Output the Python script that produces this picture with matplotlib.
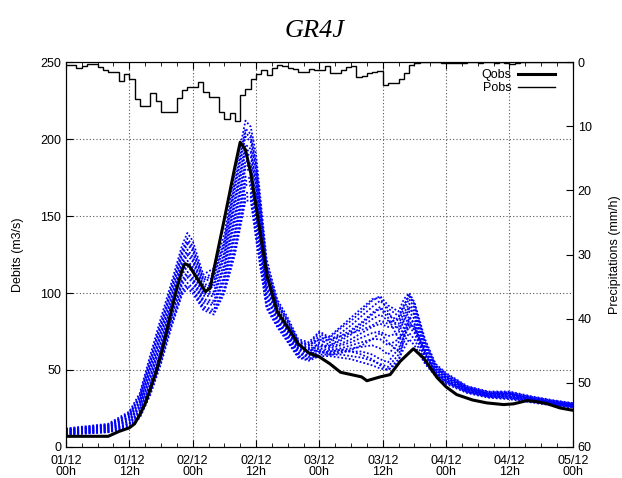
import numpy as np
import matplotlib
matplotlib.use("Agg")
import matplotlib.pyplot as plt
from matplotlib.ticker import MultipleLocator
from matplotlib.lines import Line2D

plt.rcParams['font.family'] = ['Liberation Sans', 'DejaVu Sans']

# axe du temps : heures depuis le 01/12 00h
x_ticks = [0, 12, 24, 36, 48, 60, 72, 84, 96]
x_labels = ["01/12\n00h", "01/12\n12h", "02/12\n00h", "02/12\n12h", "03/12\n00h",
            "03/12\n12h", "04/12\n00h", "04/12\n12h", "05/12\n00h"]

# pluie horaire observee (mm/h)
pobs = [0.42, 0.42, 0.84, 0.58, 0.32, 0.32, 0.68, 1.3, 1.6, 1.6,
        2.9, 1.9, 2.65, 5.7, 6.9, 6.8, 4.8, 6.1, 7.7, 7.8,
        7.8, 5.6, 4.4, 3.8, 3.9, 3.1, 4.6, 5.5, 5.5, 7.8,
        8.8, 7.9, 9.2, 5.2, 4.2, 2.6, 1.8, 1.2, 2.0, 0.9,
        0.5, 0.6, 0.9, 1.0, 1.6, 1.5, 1.0, 1.15, 1.15, 0.63,
        1.67, 1.67, 1.15, 0.78, 0.63, 2.3, 2.2, 1.67, 1.5, 1.4,
        3.5, 3.3, 3.3, 2.7, 1.67, 0.47, 0.1, 0.05, 0.0, 0.0,
        0.05, 0.1, 0.15, 0.1, 0.2, 0.1, 0.0, 0.05, 0.1, 0.0,
        0.0, 0.1, 0.0, 0.15, 0.3, 0.1, 0.0, 0.0, 0.0, 0.0,
        0.0, 0.0, 0.0, 0.0, 0.0, 0.0]
p_edges = np.arange(len(pobs) + 1)

# debit observe (m3/s)
qobs_t = [0, 8, 10, 12, 13, 14, 15, 16, 17, 18, 19, 20, 21, 22, 22.5, 23.3, 26.4, 27.3,
          28, 30, 32, 33, 34, 35, 36.8, 38.1, 40, 42.5, 44, 46, 48, 50, 52, 54, 56, 57,
          59.5, 61.4, 63.3, 65.8, 67.7, 70.3, 72, 74, 77, 79.7, 82.9, 84.8, 87.3, 89,
          91.1, 93.6, 96]
qobs = [6.9, 6.9, 10, 12.4, 15, 21, 28, 38, 48, 60, 74, 89, 103, 115, 119, 118, 101, 103,
        115, 148, 182, 198, 193, 178, 139, 111, 88, 75, 67, 61, 58.5, 54, 48.5, 47, 45.5, 43,
        45.5, 47, 55.6, 63.8, 57.8, 45, 39, 34, 30.5, 28.6, 27.5, 28, 30.1, 29.5,
        28.1, 25.3, 23.8]

# membres de l'ensemble GR4J (m3/s)
ens_t = [0, 8, 12, 14, 16, 18, 20, 22, 23, 24, 26, 28, 30, 32, 34, 35, 36, 38, 40, 42, 44, 46,
         48, 50, 52, 54, 56, 58, 59.5, 61, 63, 64, 65, 66, 68,
         70, 72, 76, 80, 84, 88, 92, 96]
ens_01 = [8, 9.5, 12.5, 19, 34, 54, 78, 99, 103, 100, 89, 86, 100, 125, 160, 160, 135, 90, 78, 68, 58, 56,
          59, 59, 58, 57, 55, 53, 51, 50, 57, 64, 70, 66, 54,
          46, 41, 35, 32, 31, 29, 27, 25.5]
ens_02 = [8.4, 10, 13.5, 20.6, 36.6, 57, 80.9, 102.2, 106.6, 103.4, 91.3, 89, 103.8, 130.3, 165.2, 164.8, 140.5, 93.2, 79.8, 69.6, 59.2, 57.2,
          60, 60, 60, 59, 58, 56, 54, 52, 60, 68, 74, 70, 55.6,
          46.8, 41.7, 35.5, 32.4, 31.5, 29.4, 27.4, 25.8]
ens_03 = [8.8, 10.6, 14.6, 22.2, 39.2, 60, 83.8, 105.4, 110.2, 106.8, 93.6, 92, 107.6, 135.6, 170.4, 169.6, 146, 96.4, 81.6, 71.2, 60.4, 58.4,
          62, 61, 62, 62, 62, 60, 57, 55, 64, 72, 78, 74, 57.2,
          47.6, 42.4, 35.9, 32.8, 32, 29.8, 27.7, 26.1]
ens_04 = [9.2, 11.1, 15.6, 23.8, 41.8, 63, 86.7, 108.6, 113.8, 110.2, 95.9, 95, 111.4, 140.9, 175.6, 174.4, 151.5, 99.6, 83.4, 72.8, 61.6, 59.6,
          63, 62, 63, 64, 65, 66, 64, 60, 68, 76, 82, 77, 58.8,
          48.4, 43.1, 36.4, 33.2, 32.5, 30.2, 28.1, 26.4]
ens_05 = [9.6, 11.7, 16.7, 25.4, 44.4, 66, 89.6, 111.8, 117.4, 113.6, 98.2, 98, 115.2, 146.2, 180.8, 179.2, 157, 102.8, 85.2, 74.4, 62.8, 60.8,
          64, 63, 64, 66, 68, 70, 70, 66, 70, 78, 85, 80, 60.4,
          49.2, 43.8, 36.8, 33.6, 33, 30.6, 28.4, 26.7]
ens_06 = [10, 12.2, 17.7, 27, 47, 69, 92.5, 115, 121, 117, 100.5, 101, 119, 151.5, 186, 184, 162.5, 106, 87, 76, 64, 62,
          66, 64, 66, 68, 71, 74, 75, 72, 74, 82, 88, 83, 62,
          50, 44.5, 37.3, 34, 33.5, 31, 28.8, 27]
ens_07 = [10.4, 12.8, 18.8, 28.6, 49.6, 72, 95.4, 118.2, 124.6, 120.4, 102.8, 104, 122.8, 156.8, 191.2, 188.8, 168, 109.2, 88.8, 77.6, 65.2, 63.2,
          67, 65, 67, 70, 74, 78, 80, 78, 78, 85, 91, 86, 63.6,
          50.8, 45.2, 37.7, 34.4, 34, 31.4, 29.1, 27.3]
ens_08 = [10.8, 13.3, 19.8, 30.2, 52.2, 75, 98.3, 121.4, 128.2, 123.8, 105.1, 107, 126.6, 162.1, 196.4, 193.6, 173.5, 112.4, 90.6, 79.2, 66.4, 64.4,
          70, 66, 69, 73, 78, 83, 86, 82, 80, 87, 93, 88, 65.2,
          51.6, 45.9, 38.2, 34.8, 34.5, 31.8, 29.5, 27.6]
ens_09 = [11.2, 13.9, 20.9, 31.8, 54.8, 78, 101.2, 124.6, 131.8, 127.2, 107.4, 110, 130.4, 167.4, 201.6, 198.4, 179, 115.6, 92.4, 80.8, 67.6, 65.6,
          72, 68, 72, 76, 81, 87, 91, 86, 82, 90, 96, 90, 66.8,
          52.4, 46.6, 38.6, 35.2, 35, 32.2, 29.8, 27.9]
ens_10 = [11.6, 14.4, 21.9, 33.4, 57.4, 81, 104.1, 127.8, 135.4, 130.6, 109.7, 113, 134.2, 172.7, 206.8, 203.2, 184.5, 118.8, 94.2, 82.4, 68.8, 66.8,
          74, 69, 74, 79, 85, 91, 95, 90, 85, 92, 98, 92, 68.4,
          53.2, 47.3, 39.1, 35.6, 35.5, 32.6, 30.2, 28.2]
ens_11 = [12, 15, 23, 35, 60, 84, 107, 131, 139, 134, 112, 116, 138, 178, 212, 208, 190, 122, 96, 84, 70, 68,
          75, 71, 77, 82, 88, 95, 98, 92, 88, 96, 100, 94, 70,
          54, 48, 39.5, 36, 36, 33, 30.5, 28.5]
ens_12 = [8.2, 9.75, 13, 19.8, 35.3, 55.5, 79.5, 100.6, 104.8, 101.7, 90.2, 87.5, 101.9, 127.7, 162.6, 162.4, 137.8, 91.6, 78.9, 68.8, 58.6, 56.6,
          61, 62, 63, 62, 60, 57, 53, 50, 55, 70, 80, 78, 62,
          47.5, 42.5, 36, 33, 32.5, 30, 28, 26]
ens_13 = [9, 10.85, 15.1, 23, 40.5, 61.5, 85.3, 107, 112, 108.5, 94.8, 93.5, 109.5, 138.3, 173, 172, 148.8, 98, 82.5, 72, 61, 59,
          65, 66, 70, 75, 80, 86, 90, 84, 70, 74, 80, 76, 60,
          49, 43.5, 37, 33.8, 34.5, 31, 28.4, 26.5]
ens_14 = [9.8, 11.95, 17.2, 26.2, 45.7, 67.5, 91, 113.4, 119.2, 115.3, 99.4, 99.5, 117.1, 148.9, 183.4, 181.6, 159.8, 104.4, 86.1, 75.2, 63.4, 61.4,
          68, 70, 72, 74, 76, 79, 82, 80, 84, 92, 99, 93, 68,
          52, 46, 38, 34.5, 35, 31.5, 29, 27.2]
ens_15 = [10.6, 13.05, 19.3, 29.4, 50.9, 73.5, 96.9, 119.8, 126.4, 122.1, 104, 105.5, 124.7, 159.5, 193.8, 191.2, 170.8, 110.8, 89.7, 78.4, 65.8, 63.8,
          62, 60, 61, 63, 66, 70, 74, 68, 62, 72, 84, 80, 58,
          48, 43, 36.5, 33.5, 33.2, 30.8, 28.5, 26.8]
ens_16 = [11.4, 14.15, 21.4, 32.6, 56.1, 79.5, 102.7, 126.2, 133.6, 128.9, 108.6, 111.5, 132.3, 170.1, 204.2, 200.8, 181.8, 117.2, 93.3, 81.6, 68.2, 66.2,
          70, 72, 78, 84, 90, 96, 97, 88, 76, 82, 90, 86, 63,
          50, 45, 37.5, 34.2, 34.8, 31.2, 29, 27]
membres = [ens_01, ens_02, ens_03, ens_04, ens_05, ens_06, ens_07, ens_08,
           ens_09, ens_10, ens_11, ens_12, ens_13, ens_14, ens_15, ens_16]

fig = plt.figure(figsize=(6.22, 4.78), dpi=100)
ax = fig.add_axes([0.106, 0.065, 0.815, 0.805])

for m in membres:
    ax.plot(ens_t, m, color='blue', lw=1.3, ls=(0, (1, 1.1)), zorder=2)
hq, = ax.plot(qobs_t, qobs, color='black', lw=2.2, zorder=4)

ax.set_xlim(0, 96)
ax.set_ylim(0, 250)
ax.set_xticks(x_ticks)
ax.set_xticklabels(x_labels, linespacing=0.92)
ax.xaxis.set_minor_locator(MultipleLocator(3))
ax.set_yticks([0, 50, 100, 150, 200, 250])
ax.grid(True, which='major', color='#555555', ls=(0, (1, 2)), lw=0.8)
ax.tick_params(which='both', direction='in', top=True, labelsize=9)
ax.tick_params(which='major', length=5)
ax.tick_params(which='minor', length=3)
ax.tick_params(axis='x', pad=5.5)
ax.set_ylabel('Debits (m3/s)', fontsize=9)
ax.yaxis.set_label_coords(-0.082, 0.5)

ax2 = ax.twinx()
ax2.stairs(pobs, p_edges, color='black', lw=1.0, baseline=None)
ax2.set_ylim(60, 0)
ax2.set_yticks([0, 10, 20, 30, 40, 50, 60])
ax2.tick_params(direction='in', length=5, labelsize=9)
ax2.set_ylabel('Precipitations (mm/h)', fontsize=9, rotation=90)
ax2.yaxis.set_label_coords(1.072, 0.5)

hp = Line2D([], [], color='black', lw=1.0)
ax2.legend(handles=[hq, hp], labels=['Qobs', 'Pobs'], loc='upper right',
           bbox_to_anchor=(0.975, 0.995), borderaxespad=0, frameon=False,
           markerfirst=False, handlelength=3.0, handletextpad=0.5,
           labelspacing=0.1, fontsize=9)

fig.text(0.505, 0.935, 'GR4J', family='Liberation Serif', style='italic',
         fontsize=19, ha='center', va='center')

fig.savefig('out.png', dpi=100)
